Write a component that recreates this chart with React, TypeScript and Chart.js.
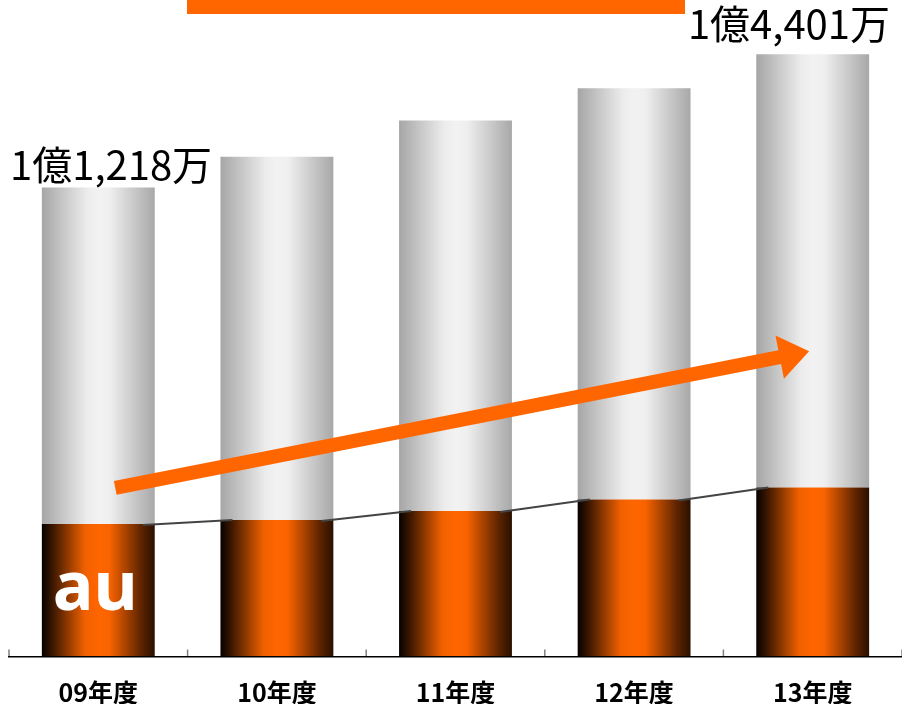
import React, { useEffect, useRef } from 'react';
import { Chart, registerables } from 'chart.js';

Chart.register(...registerables);

// ---- data ----
const categories = ['09年度', '10年度', '11年度', '12年度', '13年度'];
const totalSubscribers = [11218, 11954, 12820, 13590, 14401]; // 万
const auSubscribers = [3170, 3265, 3480, 3752, 4040]; // 万
const otherSubscribers = totalSubscribers.map((t, i) => t - auSubscribers[i]);
const valueLabels = ['1億1,218万', '', '', '', '1億4,401万'];
const barTag = 'au';

const Y_MAX = 15700;
const BAR_PCT = 0.632;

const ORANGE_STOPS: [number, string][] = [
  [0, '#060100'],
  [0.1, '#3e1800'],
  [0.38, '#f06000'],
  [0.5, '#ff6600'],
  [0.6, '#f86300'],
  [0.88, '#5e2400'],
  [1, '#2a1000'],
];
const GRAY_STOPS: [number, string][] = [
  [0, '#a6a6a6'],
  [0.4, '#ececec'],
  [0.5, '#f2f2f2'],
  [0.6, '#efefef'],
  [1, '#a8a8a8'],
];

function barGradient(chart: any, index: number, stops: [number, string][]) {
  const xs = chart.scales && chart.scales.x;
  if (!xs || !chart.chartArea) return stops[Math.floor(stops.length / 2)][1];
  const cat = xs.width / categories.length;
  const cx = xs.getPixelForValue(index);
  const half = (cat * BAR_PCT) / 2;
  const g = chart.ctx.createLinearGradient(cx - half, 0, cx + half, 0);
  stops.forEach(([o, c]) => g.addColorStop(o, c));
  return g;
}

const decorPlugin = {
  id: 'decor',
  afterDatasetsDraw(chart: any) {
    const { ctx } = chart;
    const xs = chart.scales.x;
    const ys = chart.scales.y;
    const cat = xs.width / categories.length;
    const half = (cat * BAR_PCT) / 2;
    const step = xs.getPixelForValue(1) - xs.getPixelForValue(0);
    const idxToPx = (idx: number) => xs.getPixelForValue(0) + idx * step;

    ctx.save();

    // tick marks (upward, at category boundaries)
    ctx.strokeStyle = '#808080';
    ctx.lineWidth = 1.5;
    for (let i = 0; i <= categories.length; i++) {
      const x = xs.left + i * cat;
      ctx.beginPath();
      ctx.moveTo(x, ys.bottom);
      ctx.lineTo(x, ys.bottom - 7);
      ctx.stroke();
    }

    // series lines between au tops
    ctx.strokeStyle = '#444444';
    ctx.lineWidth = 2;
    for (let i = 0; i < categories.length - 1; i++) {
      const x1 = xs.getPixelForValue(i) + half - 12;
      const y1 = ys.getPixelForValue(auSubscribers[i]) + 1;
      const x2 = xs.getPixelForValue(i + 1) - half + 12;
      const y2 = ys.getPixelForValue(auSubscribers[i + 1]);
      ctx.beginPath();
      ctx.moveTo(x1, y1);
      ctx.lineTo(x2, y2);
      ctx.stroke();
    }

    // growth arrow
    const ax1 = idxToPx(0.095), ay1 = ys.getPixelForValue(4030);
    const ax2 = idxToPx(3.98), ay2 = ys.getPixelForValue(7300);
    const ang = Math.atan2(ay2 - ay1, ax2 - ax1);
    const len = Math.hypot(ax2 - ax1, ay2 - ay1);
    const shaftHalf = 7, headLen = 30, headHalf = 22;
    ctx.save();
    ctx.translate(ax1, ay1);
    ctx.rotate(ang);
    ctx.fillStyle = '#ff6600';
    ctx.beginPath();
    ctx.moveTo(0, -shaftHalf);
    ctx.lineTo(len - headLen, -shaftHalf);
    ctx.lineTo(len - headLen, -headHalf);
    ctx.lineTo(len, 0);
    ctx.lineTo(len - headLen, headHalf);
    ctx.lineTo(len - headLen, shaftHalf);
    ctx.lineTo(0, shaftHalf);
    ctx.closePath();
    ctx.fill();
    ctx.restore();

    // value labels
    const gaps = [7, 0, 0, 0, 15];
    ctx.font = '40px "Noto Sans CJK JP", "Noto Sans", sans-serif';
    ctx.fillStyle = '#000000';
    ctx.textAlign = 'center';
    ctx.textBaseline = 'alphabetic';
    valueLabels.forEach((txt, i) => {
      if (!txt) return;
      const w = ctx.measureText(txt).width;
      let x = xs.getPixelForValue(i);
      x = Math.max(x, w / 2 + 10);
      x = Math.min(x, chart.width - w / 2 - 12);
      const y = ys.getPixelForValue(totalSubscribers[i]) - gaps[i];
      ctx.fillText(txt, x, y);
    });

    // "au" tag in first bar
    ctx.font = 'bold 68px "Noto Sans", "Open Sans", sans-serif';
    ctx.fillStyle = '#ffffff';
    ctx.fillText(barTag, xs.getPixelForValue(0) - 3, ys.getPixelForValue(0) - 47);

    ctx.restore();
  },
};

export default function App() {
  const canvasRef = useRef<HTMLCanvasElement | null>(null);

  useEffect(() => {
    if (!canvasRef.current) return;
    const chart = new Chart(canvasRef.current, {
      type: 'bar',
      data: {
        labels: categories,
        datasets: [
          {
            label: 'au',
            data: auSubscribers,
            backgroundColor: (c: any) => barGradient(c.chart, c.dataIndex, ORANGE_STOPS),
            borderWidth: 0,
            barPercentage: BAR_PCT,
            categoryPercentage: 1,
            stack: 's',
          },
          {
            label: 'other',
            data: otherSubscribers,
            backgroundColor: (c: any) => barGradient(c.chart, c.dataIndex, GRAY_STOPS),
            borderWidth: 0,
            barPercentage: BAR_PCT,
            categoryPercentage: 1,
            stack: 's',
          },
        ],
      },
      options: {
        animation: false,
        responsive: true,
        maintainAspectRatio: false,
        layout: { padding: { left: 9, right: -2, top: 0, bottom: -24.5 } },
        plugins: {
          legend: { display: false },
          tooltip: { enabled: false },
          title: { display: false },
        },
        scales: {
          x: {
            stacked: true,
            grid: { display: false, drawTicks: false },
            border: { display: true, color: '#000000', width: 1.5, z: 1 },
            ticks: {
              color: '#000000',
              padding: 21,
              font: { family: '"Noto Sans CJK JP", sans-serif', size: 25, weight: 'bold' },
            },
          },
          y: {
            stacked: true,
            display: false,
            min: 0,
            max: Y_MAX,
          },
        },
      },
      plugins: [decorPlugin],
    });
    return () => chart.destroy();
  }, []);

  return (
    <div style={{ position: 'absolute', left: 0, top: 0, width: 902, height: 704, background: '#ffffff' }}>
      <div style={{ position: 'absolute', left: 187, top: 0, width: 498, height: 14, background: '#ff6600' }} />
      <div style={{ position: 'absolute', left: 0, top: 0, width: 902, height: 704 }}>
        <canvas ref={canvasRef} />
      </div>
    </div>
  );
}
